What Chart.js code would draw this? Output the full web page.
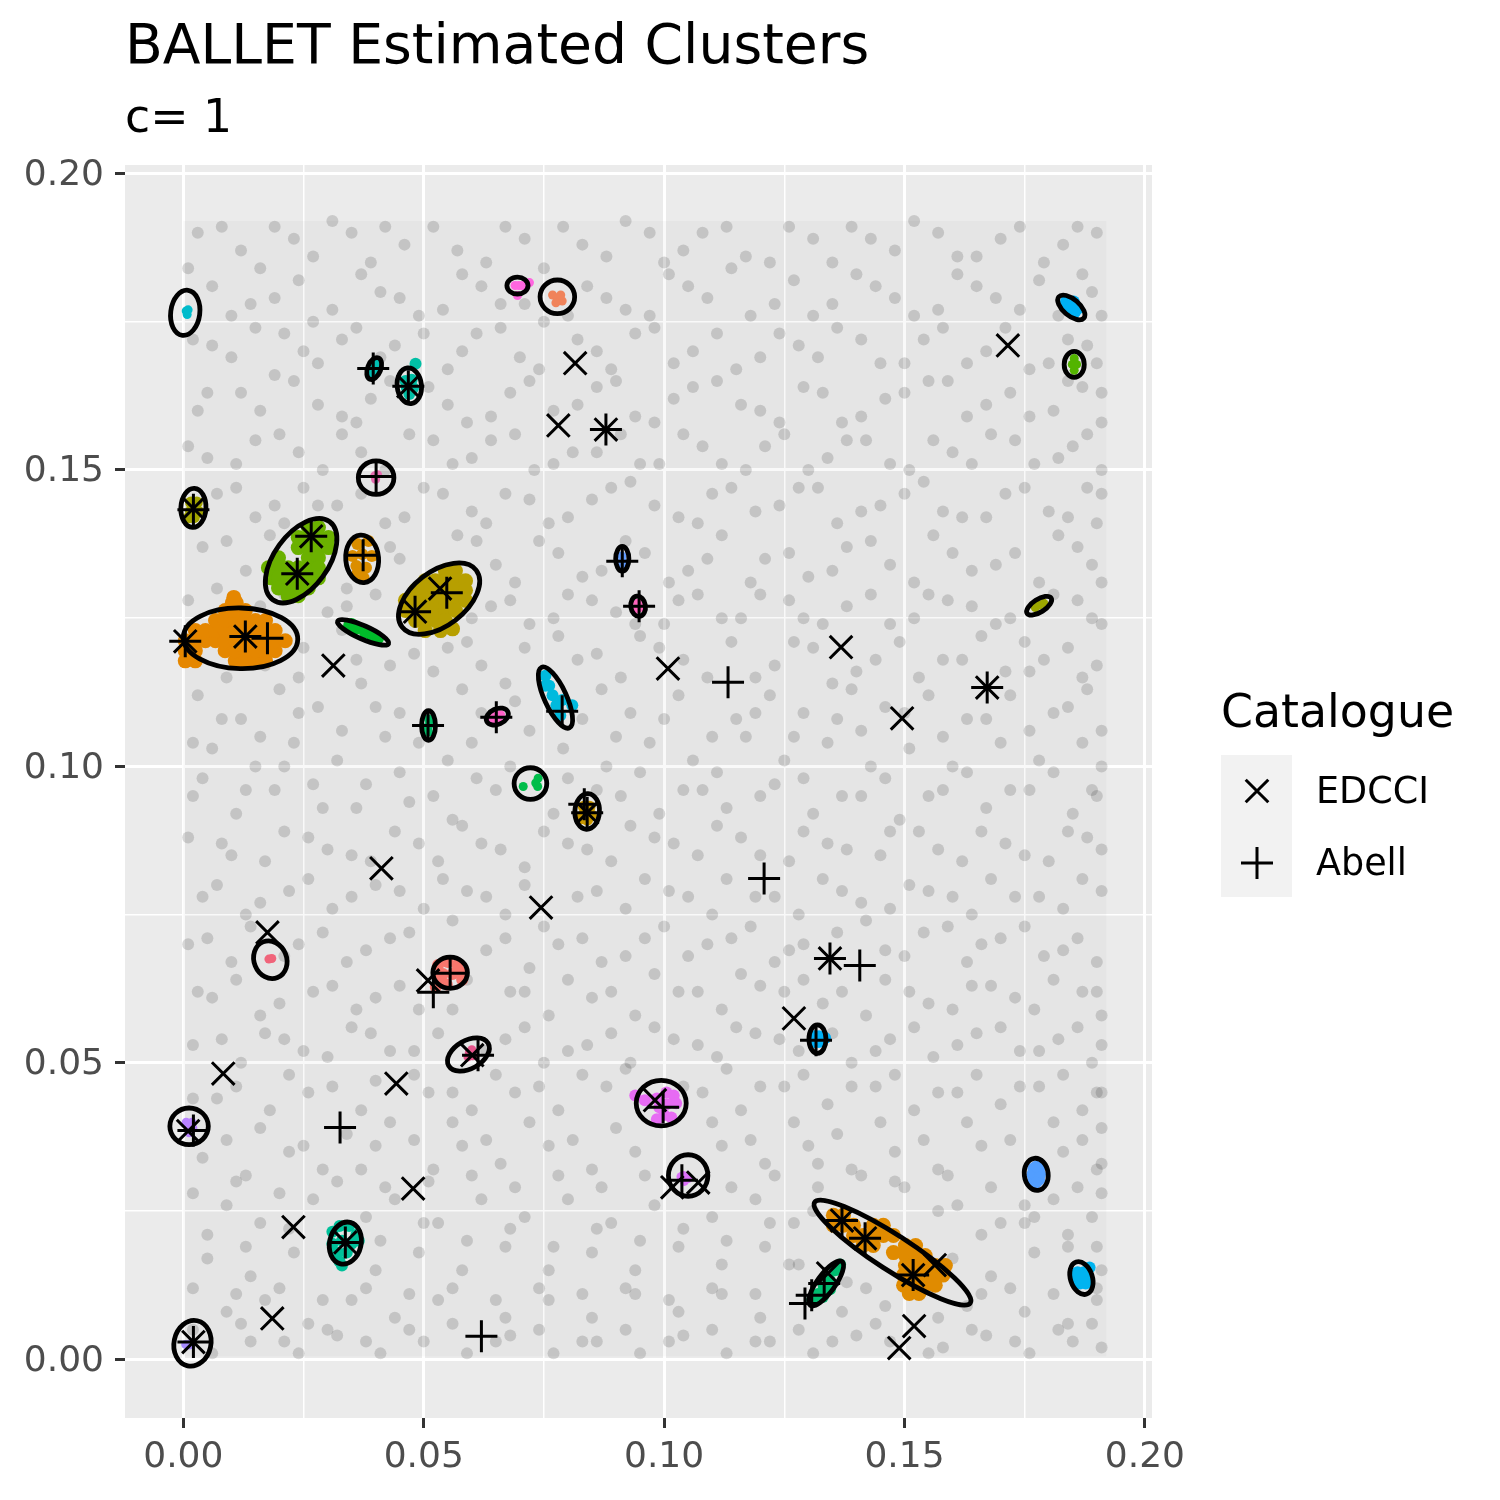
<!DOCTYPE html>
<html>
<head>
<meta charset="utf-8">
<title>BALLET Estimated Clusters</title>
<script src="https://cdn.jsdelivr.net/npm/chart.js@4/dist/chart.umd.min.js"></script>
<style>
html, body { margin: 0; padding: 0; background: #fff; }
canvas { display: block; }
</style>
</head>
<body>
<canvas id="clusters-chart" width="1500" height="1500"></canvas>
<script>
var chartTitle = "BALLET Estimated Clusters";
var chartSubtitle = "c= 1";
var legendTitle = "Catalogue";
var catalogueNames = ["EDCCI", "Abell"];

var majorTicks = [0, 0.05, 0.10, 0.15, 0.20];
var minorTicks = [0.025, 0.075, 0.125, 0.175];

var edcciX = [.1715,.0815,.0780,.0879,.0468,.0021,.0266,.0237,.0534,.0482,.0129,.0004,.0312,.1008,.1368,.1672,.1495,.0840,.0412,.0744,.0175,.1345,.0509,.1270,.0601,.0083,.0443,.0981,.0010,.1017,.1071,.0478,.0229,.1370,.1418,.1563,.1518,.1341,.0185,.0021,.1520,.1489,.0337];
var edcciY = [.1710,.1680,.1575,.1568,.1641,.1435,.1388,.1325,.1300,.1261,.1219,.1211,.1170,.1165,.1201,.1133,.1081,.0922,.0828,.0762,.0720,.0676,.0639,.0575,.0513,.0482,.0465,.0437,.0385,.0290,.0298,.0288,.0223,.0234,.0204,.0159,.0142,.0145,.0069,.0029,.0056,.0019,.0197];

var abellX = [.0395,.0468,.0879,.0401,.0021,.0266,.0237,.0374,.0548,.0482,.0129,.0175,.0004,.0913,.0948,.1672,.1133,.0788,.0651,.0509,.0834,.0840,.1208,.1345,.1407,.0555,.0520,.0613,.1316,.0326,.0998,.0021,.1037,.1370,.1418,.1518,.0337,.0021,.0620,.1293,.1333,.1307];
var abellY = [.1671,.1641,.1568,.1489,.1433,.1388,.1325,.1356,.1293,.1261,.1219,.1216,.1211,.1346,.1270,.1133,.1142,.1093,.1083,.1069,.0936,.0922,.0811,.0676,.0664,.0651,.0619,.0513,.0538,.0391,.0425,.0386,.0302,.0234,.0204,.0142,.0197,.0029,.0039,.0094,.0128,.0108];

// fitted ellipses: centre, major semi-axis as a data vector, minor/major ratio
var ellipseX = [.0004,.0778,.0695,.0397,.0470,.0401,.0021,.0245,.0372,.0532,.0119,.0374,.0913,.0946,.1780,.0774,.0653,.0510,.0722,.0840,.0181,.0555,.0593,.1319,.0994,.0012,.1050,.1774,.0337,.1475,.1337,.0019,.1868,.1847,.1853];
var ellipseY = [.1765,.1792,.1811,.1671,.1642,.1487,.1436,.1347,.1350,.1283,.1216,.1226,.1350,.1270,.1271,.1116,.1084,.1069,.0971,.0924,.0674,.0652,.0514,.0540,.0432,.0393,.0310,.0312,.0196,.0180,.0128,.0027,.0137,.1774,.1678];
var ellipseUX = [.0006,.0036,.0022,.0009,-.0004,.0037,.0002,.0059,-.0004,.0077,.0119,.0053,0,-.0003,.0025,-.0029,.0022,0,.0034,.0002,-.0015,.0036,.0041,0,.0052,.0040,0,-.0004,.0010,.0162,.0033,.0010,-.0011,.0026,0];
var ellipseUY = [.0038,0,0,.0018,.0030,0,.0033,.0066,.0040,.0048,-.0002,-.0019,.0021,.0017,.0013,.0051,.0008,.0025,0,.0030,.0030,0,.0019,.0024,0,0,.0035,.0027,.0035,-.0085,.0037,.0038,.0027,-.0018,.0022];
var ellipseRatio = [.64,.97,.8,.57,.68,.94,.64,.557,.69,.58,.53,.24,.53,.72,.45,.33,.67,.47,.97,.69,.85,.9,.62,.6,.91,.95,.95,.74,.74,.19,.33,.8,.65,.5,.77];

var clusterColours = ["#00BBCB","#F0835A","#FF66E0","#00BFB4","#00BFA5","#E76BB0","#A3A500","#6BB100","#DB8E00","#B79F00","#E58700","#00BC2A","#619CFF","#FF62BC","#9CA700","#00BADE","#FF61C9","#00BE67","#00BD4A","#C99800","#F0647A","#F8766D","#E7558C","#00B0F6","#E76BF3","#B983FF","#DC71FA","#529EFF","#00C19A","#E08B00","#00BE70","#A58AFF","#00B4F0","#00B2F5","#53B400"];

// cluster members as x,y pairs, same order as clusterColours
var clusterMembers = [
  [.0006,.1768,.0010,.1770,.0008,.1762],
  [.0768,.1795,.0778,.1790,.0788,.1785,.0775,.1782,.0785,.1795],
  [.0690,.1811,.0698,.1811,.0705,.1811,.0720,.1816,.0695,.1794],
  [.0393,.1677,.0402,.1680,.0390,.1665,.0396,.1660,.0405,.1672],
  [.0462,.1650,.0475,.1652,.0465,.1638,.0478,.1638,.0470,.1628,.0483,.1679],
  [.0398,.1490,.0404,.1492,.0400,.1484],
  [.0016,.1445,.0028,.1445,.0016,.1430,.0030,.1430,.0022,.1420,.0012,.1420],
  [.0260,.1403,.0281,.1403,.0239,.1386,.0260,.1386,.0281,.1386,.0302,.1386,.0239,.1369,.0260,.1369,.0281,.1369,.0302,.1369,.0198,.1352,.0260,.1352,.0281,.1352,.0177,.1335,.0198,.1335,.0218,.1335,.0239,.1335,.0260,.1335,.0281,.1335,.0183,.1318,.0198,.1318,.0218,.1318,.0239,.1318,.0260,.1318,.0281,.1318,.0198,.1301,.0218,.1301,.0239,.1301,.0260,.1301,.0218,.1288,.0239,.1288],
  [.0362,.1375,.0385,.1380,.0352,.1355,.0372,.1358,.0392,.1355,.0360,.1338,.0380,.1335,.0375,.1318,.0362,.1325],
  [.0545,.1330,.0566,.1330,.0503,.1313,.0524,.1313,.0545,.1313,.0566,.1313,.0587,.1313,.0483,.1297,.0503,.1297,.0524,.1297,.0545,.1297,.0566,.1297,.0587,.1297,.0462,.1280,.0483,.1280,.0503,.1280,.0524,.1280,.0545,.1280,.0566,.1280,.0587,.1280,.0462,.1263,.0483,.1263,.0503,.1263,.0524,.1263,.0545,.1263,.0566,.1263,.0483,.1246,.0503,.1246,.0524,.1246,.0545,.1246,.0503,.1229,.0535,.1229,.0560,.1232],
  [.0004,.1178,.0025,.1178,.0108,.1178,.0129,.1178,.0150,.1178,.0171,.1178,.0004,.1195,.0025,.1195,.0087,.1195,.0108,.1195,.0129,.1195,.0150,.1195,.0171,.1195,.0191,.1195,.0004,.1212,.0025,.1212,.0046,.1212,.0067,.1212,.0087,.1212,.0108,.1212,.0129,.1212,.0150,.1212,.0171,.1212,.0191,.1212,.0212,.1212,.0025,.1229,.0046,.1229,.0067,.1229,.0087,.1229,.0108,.1229,.0129,.1229,.0150,.1229,.0171,.1229,.0191,.1229,.0067,.1246,.0087,.1246,.0108,.1246,.0129,.1246,.0150,.1246,.0171,.1246,.0087,.1263,.0108,.1263,.0129,.1263,.0102,.1276,.0110,.1276,.0105,.1285],
  [.0345,.1238,.0360,.1232,.0378,.1226,.0392,.1221,.0405,.1216,.0350,.1240],
  [.0913,.1346,.0915,.1338,.0912,.1355],
  [.0945,.1275,.0950,.1268,.0942,.1265],
  [.1772,.1268,.1780,.1272,.1790,.1275],
  [.0753,.1153,.0761,.1136,.0768,.1120,.0776,.1103,.0784,.1086,.0809,.1103,.0788,.1112,.0753,.1136],
  [.0640,.1080,.0650,.1085,.0660,.1087,.0645,.1075,.0655,.1078],
  [.0510,.1080,.0510,.1068,.0510,.1058,.0505,.1065,.0512,.1075],
  [.0707,.0966,.0733,.0972,.0738,.0980,.0737,.0966],
  [.0833,.0932,.0845,.0932,.0833,.0918,.0848,.0918,.0840,.0910,.0826,.0912],
  [.0178,.0675,.0184,.0676],
  [.0530,.0665,.0550,.0670,.0570,.0665,.0580,.0652,.0540,.0650,.0560,.0650,.0580,.0640,.0530,.0640,.0548,.0632,.0525,.0628],
  [.0595,.0518,.0602,.0512,.0592,.0510,.0600,.0522],
  [.1312,.0545,.1322,.0545,.1312,.0535,.1322,.0535,.1335,.0542,.1318,.0540],
  [.0940,.0445,.0960,.0437,.0985,.0440,.1005,.0450,.1020,.0445,.1025,.0432,.1005,.0430,.1000,.0412,.1015,.0408,.0985,.0405,.0990,.0425],
  [.0006,.0400,.0012,.0392,.0018,.0400,.0012,.0382,.0020,.0390],
  [.1040,.0310,.1050,.0305,.1042,.0300,.1035,.0308],
  [.1768,.0322,.1780,.0322,.1768,.0303,.1780,.0303,.1774,.0312,.1766,.0312,.1782,.0312,.1774,.0325,.1774,.0298],
  [.0310,.0215,.0325,.0225,.0345,.0225,.0360,.0210,.0310,.0195,.0330,.0200,.0350,.0195,.0365,.0200,.0320,.0180,.0340,.0180,.0325,.0165,.0330,.0158],
  [.1352,.0243,.1373,.0243,.1352,.0226,.1373,.0226,.1394,.0226,.1435,.0226,.1456,.0226,.1394,.0209,.1414,.0209,.1435,.0209,.1456,.0209,.1477,.0209,.1414,.0192,.1435,.0192,.1477,.0180,.1502,.0192,.1523,.0192,.1502,.0175,.1523,.0175,.1543,.0175,.1502,.0158,.1523,.0158,.1543,.0158,.1564,.0158,.1585,.0158,.1498,.0142,.1523,.0142,.1543,.0142,.1564,.0142,.1580,.0142,.1498,.0125,.1523,.0125,.1543,.0125,.1564,.0125,.1510,.0111,.1530,.0111],
  [.1308,.0100,.1320,.0110,.1332,.0122,.1344,.0134,.1356,.0150,.1366,.0160,.1330,.0105,.1345,.0118],
  [.0005,.0025,.0012,.0024,.0018,.0028],
  [.1860,.0147,.1873,.0147,.1865,.0128,.1877,.0128,.1860,.0135,.1885,.0155,.1868,.0138,.1878,.0137,.1858,.0142],
  [.1836,.1784,.1846,.1778,.1856,.1768,.1846,.1768,.1852,.1784,.1860,.1772,.1838,.1776,.1852,.1764],
  [.1853,.1688,.1853,.1668,.1849,.1678,.1858,.1678,.1853,.1678]
];

// survey extent, the field tone under the speckle
var fieldX = [0, .192];
var fieldY = [.0005, .192];

// background galaxies: hand estimate of the speckle, far fewer than the real field, x,y pairs
var fieldPoints = [
.003,.190,.012,.187,.019,.191,.027,.186,.035,.190,.046,.188,.052,.191,.063,.185,.071,.189,.079,.191,.088,.186,.097,.190,.104,.187,.113,.191,.122,.185,.131,.189,.139,.191,.148,.187,.157,.190,.165,.186,.174,.191,.183,.188,.190,.190,
.006,.181,.014,.178,.024,.182,.031,.177,.041,.180,.049,.176,.058,.183,.066,.178,.075,.175,.084,.181,.092,.177,.101,.183,.109,.179,.118,.176,.127,.182,.135,.178,.144,.181,.152,.176,.161,.183,.169,.179,.178,.182,.187,.183,.191,.176,
.002,.172,.010,.169,.021,.173,.028,.168,.036,.174,.044,.171,.055,.167,.061,.173,.070,.169,.082,.172,.089,.167,.098,.174,.106,.170,.115,.167,.124,.173,.132,.169,.141,.172,.150,.168,.158,.174,.167,.170,.176,.167,.184,.172,.190,.168,
.005,.163,.016,.160,.023,.165,.033,.159,.039,.162,.051,.164,.059,.158,.068,.163,.077,.160,.086,.164,.094,.159,.102,.162,.111,.165,.120,.160,.129,.164,.137,.158,.146,.162,.155,.165,.163,.159,.172,.163,.181,.160,.187,.164,.191,.158,
.001,.154,.011,.151,.020,.156,.029,.150,.037,.153,.047,.156,.056,.151,.064,.155,.073,.150,.081,.153,.091,.156,.099,.151,.108,.154,.117,.150,.125,.156,.134,.152,.142,.155,.151,.150,.160,.153,.168,.156,.177,.151,.185,.154,.191,.150,
.007,.146,.015,.142,.025,.147,.032,.144,.042,.141,.050,.147,.060,.143,.067,.146,.076,.141,.085,.145,.093,.148,.103,.142,.110,.146,.119,.143,.128,.147,.136,.141,.145,.144,.154,.148,.162,.142,.171,.146,.180,.143,.188,.147,.190,.141,
.004,.137,.013,.133,.018,.139,.034,.130,.043,.137,.057,.139,.065,.134,.074,.138,.083,.132,.096,.136,.105,.133,.112,.139,.121,.135,.130,.132,.138,.137,.147,.134,.156,.139,.164,.133,.173,.136,.182,.139,.189,.134,
.001,.128,.010,.125,.021,.129,.030,.126,.040,.129,.048,.119,.064,.127,.072,.124,.080,.129,.090,.126,.100,.124,.107,.129,.116,.125,.126,.128,.133,.124,.143,.129,.152,.125,.159,.128,.169,.124,.175,.121,.186,.128,.191,.124,
.025,.120,.033,.123,.043,.117,.055,.120,.062,.117,.071,.120,.086,.119,.095,.122,.104,.118,.114,.121,.123,.117,.131,.120,.140,.116,.149,.121,.158,.118,.166,.122,.176,.116,.184,.120,.190,.117,
.003,.112,.012,.108,.020,.113,.028,.110,.037,.114,.045,.109,.058,.113,.069,.111,.087,.113,.093,.109,.103,.112,.115,.108,.122,.112,.129,.109,.139,.113,.146,.110,.155,.112,.163,.108,.172,.112,.181,.109,.188,.113,
.006,.103,.015,.100,.023,.104,.032,.101,.042,.105,.055,.101,.060,.104,.068,.100,.079,.103,.088,.100,.097,.104,.106,.101,.117,.105,.125,.101,.134,.104,.143,.100,.151,.103,.160,.100,.170,.104,.178,.101,.187,.104,.191,.100,
.002,.095,.011,.092,.019,.096,.029,.093,.038,.097,.047,.094,.056,.091,.065,.096,.077,.092,.091,.095,.099,.092,.108,.096,.113,.093,.123,.097,.131,.092,.141,.095,.149,.091,.158,.096,.167,.093,.176,.096,.185,.092,.190,.095,
.008,.087,.017,.084,.026,.088,.035,.085,.044,.089,.053,.084,.062,.087,.071,.083,.080,.087,.089,.084,.098,.088,.107,.085,.116,.088,.126,.084,.134,.087,.145,.085,.153,.089,.162,.084,.171,.087,.180,.084,.188,.088,
.004,.078,.013,.075,.022,.079,.031,.076,.040,.080,.050,.076,.059,.079,.067,.075,.082,.078,.092,.076,.101,.079,.110,.075,.119,.078,.128,.075,.137,.079,.147,.076,.155,.079,.164,.075,.173,.078,.183,.076,.191,.079,
.001,.070,.010,.067,.024,.070,.034,.067,.043,.071,.063,.069,.072,.066,.078,.070,.087,.067,.096,.071,.105,.068,.114,.071,.123,.067,.129,.070,.146,.069,.154,.072,.163,.067,.170,.071,.179,.068,.186,.071,.190,.067,
.006,.061,.016,.058,.027,.062,.036,.059,.045,.063,.056,.059,.068,.062,.076,.058,.085,.061,.094,.058,.103,.062,.112,.059,.120,.063,.133,.060,.142,.058,.151,.062,.160,.059,.168,.063,.177,.059,.187,.062,.191,.058,
.002,.053,.012,.050,.021,.054,.030,.051,.039,.055,.048,.052,.067,.054,.075,.050,.084,.053,.093,.050,.102,.054,.111,.051,.119,.055,.128,.052,.139,.050,.147,.054,.156,.051,.165,.055,.174,.052,.182,.054,.189,.050,
.007,.044,.018,.042,.026,.045,.037,.042,.051,.045,.060,.042,.069,.045,.078,.042,.088,.046,.108,.045,.116,.042,.125,.046,.134,.043,.144,.046,.152,.042,.161,.045,.170,.043,.178,.046,.187,.042,.191,.045,
.004,.034,.013,.031,.022,.035,.029,.032,.040,.036,.052,.032,.058,.036,.066,.033,.076,.036,.085,.032,.094,.035,.112,.036,.121,.033,.130,.036,.139,.032,.148,.035,.157,.032,.166,.036,.175,.026,.183,.035,.190,.032,
.009,.026,.016,.023,.027,.027,.038,.024,.044,.027,.053,.023,.062,.027,.071,.024,.080,.027,.089,.023,.098,.026,.110,.024,.119,.027,.127,.023,.132,.029,.161,.026,.170,.023,.181,.027,.189,.024,.191,.028,
.005,.017,.014,.014,.023,.018,.040,.015,.049,.018,.058,.015,.067,.019,.076,.015,.085,.018,.094,.015,.103,.019,.112,.016,.121,.019,.126,.016,.142,.012,.160,.017,.168,.014,.177,.018,.184,.019,.191,.015,
.009,.008,.017,.010,.026,.006,.035,.010,.044,.007,.053,.010,.067,.007,.076,.010,.085,.007,.094,.011,.103,.008,.112,.011,.120,.007,.137,.008,.146,.009,.157,.007,.166,.011,.175,.008,.184,.006,.190,.010,
.006,.001,.014,.003,.024,.001,.032,.004,.041,.001,.050,.003,.059,.001,.068,.004,.077,.001,.086,.003,.095,.001,.104,.004,.113,.001,.122,.003,.131,.001,.140,.004,.158,.002,.167,.004,.176,.001,.185,.003,.191,.002,
.008,.191,.016,.184,.023,.189,.031,.192,.039,.185,.042,.191,.057,.187,.067,.191,.075,.184,.083,.188,.092,.192,.100,.185,.108,.190,.117,.186,.126,.191,.135,.185,.143,.189,.152,.192,.161,.186,.170,.189,.179,.185,.186,.191,
.001,.184,.010,.176,.019,.179,.027,.175,.037,.183,.045,.179,.054,.177,.062,.181,.071,.178,.080,.176,.088,.179,.097,.176,.105,.181,.114,.184,.123,.178,.131,.176,.140,.183,.148,.179,.157,.177,.165,.181,.174,.177,.182,.176,.189,.180,
.006,.171,.015,.174,.025,.170,.033,.172,.041,.169,.050,.173,.058,.170,.066,.174,.074,.167,.086,.170,.094,.173,.102,.168,.111,.173,.120,.169,.128,.171,.136,.174,.145,.168,.154,.172,.163,.168,.171,.174,.180,.168,.188,.171,
.003,.160,.012,.163,.019,.166,.028,.161,.036,.158,.043,.165,.055,.161,.064,.159,.072,.165,.082,.161,.090,.165,.098,.158,.106,.164,.116,.161,.124,.158,.133,.163,.141,.159,.150,.163,.159,.165,.167,.161,.176,.159,.184,.165,.191,.163,
.005,.152,.015,.155,.024,.153,.033,.156,.042,.150,.052,.155,.060,.152,.069,.156,.077,.151,.086,.153,.095,.151,.104,.156,.112,.151,.121,.154,.130,.150,.138,.155,.147,.151,.156,.155,.164,.151,.173,.155,.182,.152,.188,.156,
.002,.142,.011,.147,.019,.144,.028,.141,.037,.146,.046,.142,.054,.146,.063,.141,.072,.145,.080,.142,.089,.147,.098,.144,.107,.141,.114,.147,.124,.144,.132,.147,.141,.143,.150,.146,.158,.143,.167,.142,.175,.147,.184,.142,.191,.146,
.009,.138,.021,.141,.028,.144,.045,.135,.061,.138,.069,.131,.078,.136,.087,.133,.092,.138,.101,.131,.109,.135,.118,.131,.126,.136,.135,.133,.143,.138,.152,.131,.160,.136,.169,.134,.178,.131,.186,.137,.191,.131,
.007,.130,.016,.127,.034,.127,.060,.125,.068,.128,.077,.125,.085,.128,.094,.124,.103,.128,.112,.125,.120,.129,.129,.125,.138,.127,.147,.124,.155,.129,.164,.127,.172,.125,.181,.129,.189,.125,
.002,.104,.009,.115,.017,.117,.024,.115,.036,.118,.052,.116,.059,.121,.067,.114,.078,.122,.082,.118,.091,.115,.099,.120,.109,.115,.119,.115,.127,.121,.135,.114,.144,.118,.153,.115,.162,.118,.171,.116,.179,.118,.187,.115,
.008,.108,.016,.105,.024,.109,.033,.106,.040,.110,.049,.104,.062,.109,.072,.106,.083,.108,.090,.105,.100,.108,.110,.105,.119,.109,.127,.105,.136,.108,.141,.106,.150,.109,.158,.105,.167,.108,.176,.106,.184,.110,.191,.106,
.004,.098,.013,.096,.021,.100,.027,.097,.036,.093,.045,.099,.052,.095,.061,.098,.080,.098,.086,.096,.095,.099,.104,.096,.111,.099,.120,.095,.129,.098,.137,.095,.146,.098,.155,.095,.163,.099,.172,.096,.181,.099,.189,.096,
.001,.088,.010,.085,.021,.089,.030,.086,.039,.084,.049,.087,.058,.090,.066,.086,.075,.089,.084,.086,.093,.090,.102,.087,.111,.090,.120,.085,.129,.089,.138,.086,.147,.089,.157,.086,.166,.089,.175,.085,.184,.089,.191,.086,
.007,.080,.016,.077,.026,.081,.035,.078,.045,.079,.054,.081,.063,.078,.071,.080,.086,.079,.096,.081,.105,.078,.113,.081,.123,.078,.133,.081,.141,.077,.151,.080,.160,.078,.168,.081,.178,.078,.187,.081,
.005,.071,.014,.073,.021,.068,.029,.072,.038,.069,.047,.072,.056,.074,.067,.071,.075,.073,.083,.071,.092,.068,.100,.073,.109,.070,.118,.073,.126,.069,.136,.072,.142,.074,.150,.068,.159,.073,.166,.070,.175,.073,.183,.069,
.003,.062,.011,.064,.020,.060,.031,.063,.040,.061,.049,.059,.059,.064,.071,.062,.080,.064,.089,.062,.098,.065,.107,.062,.116,.065,.125,.062,.129,.064,.137,.062,.146,.064,.155,.060,.164,.063,.173,.061,.181,.064,.190,.062,
.008,.054,.017,.055,.025,.052,.035,.056,.043,.052,.053,.055,.063,.052,.071,.056,.080,.052,.089,.055,.098,.056,.107,.053,.115,.056,.124,.054,.135,.055,.144,.052,.152,.056,.161,.053,.170,.056,.178,.052,.186,.056,.191,.053,
.002,.044,.011,.046,.022,.048,.031,.046,.040,.047,.048,.048,.056,.045,.065,.048,.074,.046,.083,.048,.092,.049,.104,.046,.113,.049,.120,.046,.129,.048,.139,.046,.148,.048,.157,.045,.165,.048,.174,.046,.183,.048,.190,.045,
.009,.037,.016,.039,.025,.036,.034,.038,.043,.040,.048,.037,.056,.040,.063,.037,.072,.040,.081,.037,.090,.039,.110,.040,.118,.037,.127,.040,.136,.038,.145,.040,.154,.037,.163,.040,.172,.037,.181,.040,.187,.037,.191,.039,
.002,.028,.011,.030,.020,.028,.032,.030,.037,.032,.042,.029,.051,.030,.060,.031,.069,.029,.078,.031,.087,.029,.096,.031,.114,.029,.123,.031,.132,.033,.141,.031,.150,.029,.159,.031,.168,.029,.177,.024,.186,.029,.191,.033,
.005,.021,.013,.019,.022,.022,.041,.020,.050,.023,.059,.020,.068,.022,.077,.019,.086,.022,.095,.020,.104,.022,.113,.020,.122,.023,.131,.025,.148,.030,.157,.025,.166,.021,.175,.023,.184,.021,.190,.019,
.002,.012,.011,.011,.020,.012,.029,.010,.038,.012,.047,.011,.056,.012,.065,.010,.074,.012,.083,.011,.092,.012,.101,.010,.110,.012,.119,.011,.128,.016,.138,.013,.147,.003,.155,.012,.163,.009,.172,.012,.181,.011,.190,.012,
.002,.005,.012,.006,.021,.003,.030,.005,.038,.003,.047,.005,.056,.006,.065,.003,.074,.005,.083,.003,.092,.005,.101,.003,.110,.005,.119,.003,.128,.005,.135,.003,.144,.006,.155,.001,.164,.005,.173,.003,.182,.005,.189,.006
];

function pairsToPoints(flat) {
    var points = [];
    for (var i = 0; i + 1 < flat.length; i += 2) {
        points.push({ x: flat[i], y: flat[i + 1] });
    }
    return points;
}

function zipPoints(xs, ys) {
    return xs.map(function (x, i) { return { x: x, y: ys[i] }; });
}

function isMajor(value) {
    return majorTicks.indexOf(value) >= 0;
}

function setTicks(scale) {
    scale.ticks = majorTicks.concat(minorTicks).map(function (v) { return { value: v }; });
}

// bigger clusters were read at a coarser step, so their dots overlap more
function memberRadius(members) {
    var n = members.length / 2;
    if (n >= 20) { return 7.5; }
    if (n >= 6) { return 6; }
    return 4.5;
}

var fontName = "'DejaVu Sans', sans-serif";

function axis(tickPadding, labelOffset, extra) {
    return Object.assign({
        type: "linear",
        afterBuildTicks: setTicks,
        border: { display: false },
        grid: {
            color: "#ffffff",
            lineWidth: function (ctx) { return ctx.tick && isMajor(ctx.tick.value) ? 3 : 1.5; },
            tickColor: function (ctx) { return ctx.tick && isMajor(ctx.tick.value) ? "#333333" : "rgba(0,0,0,0)"; },
            tickWidth: 3,
            tickLength: 10
        },
        ticks: {
            autoSkip: false,
            maxRotation: 0,
            padding: tickPadding,
            labelOffset: labelOffset,
            color: "#4D4D4D",
            font: { family: fontName, size: 36 },
            callback: function (value) { return isMajor(value) ? value.toFixed(2) : ""; }
        }
    }, extra);
}

var panelPlugin = {
    id: "panel",
    beforeDraw: function (chart) {
        var a = chart.chartArea, ctx = chart.ctx;
        ctx.save();
        ctx.fillStyle = "#EBEBEB";
        ctx.fillRect(a.left, a.top, a.right - a.left, a.bottom - a.top);
        ctx.restore();
    },
    beforeDatasetsDraw: function (chart) {
        var sx = chart.scales.x, sy = chart.scales.y, ctx = chart.ctx;
        var left = sx.getPixelForValue(fieldX[0]), right = sx.getPixelForValue(fieldX[1]);
        var top = sy.getPixelForValue(fieldY[1]), bottom = sy.getPixelForValue(fieldY[0]);
        ctx.save();
        ctx.fillStyle = "rgba(0,0,0,0.025)";
        ctx.fillRect(left, top, right - left, bottom - top);
        ctx.restore();
    }
};

var ellipsePlugin = {
    id: "ellipses",
    afterDatasetsDraw: function (chart) {
        var sx = chart.scales.x, sy = chart.scales.y, ctx = chart.ctx;
        ctx.save();
        ctx.strokeStyle = "#000000";
        ctx.lineWidth = 4.8;
        ellipseX.forEach(function (cx, i) {
            var px = sx.getPixelForValue(cx), py = sy.getPixelForValue(ellipseY[i]);
            var ux = sx.getPixelForValue(cx + ellipseUX[i]) - px;
            var uy = sy.getPixelForValue(ellipseY[i] + ellipseUY[i]) - py;
            var major = Math.sqrt(ux * ux + uy * uy);
            ctx.beginPath();
            ctx.ellipse(px, py, major, major * ellipseRatio[i], Math.atan2(uy, ux), 0, Math.PI * 2);
            ctx.stroke();
        });
        ctx.restore();
    }
};

var legendPlugin = {
    id: "catalogueLegend",
    afterDraw: function (chart) {
        var ctx = chart.ctx;
        ctx.save();
        ctx.fillStyle = "#F2F2F2";
        ctx.fillRect(1221, 755, 71, 142);
        ctx.fillStyle = "#000000";
        ctx.textBaseline = "middle";
        ctx.textAlign = "left";
        ctx.font = "45.8px " + fontName;
        ctx.fillText(legendTitle, 1221, 715);
        ctx.font = "36.5px " + fontName;
        ctx.fillText(catalogueNames[0], 1316, 794);
        ctx.fillText(catalogueNames[1], 1316, 866);
        ctx.strokeStyle = "#000000";
        ctx.lineWidth = 3;
        Chart.helpers.drawPoint(ctx, { pointStyle: "crossRot", radius: 16, borderWidth: 3, rotation: 0 }, 1257, 791);
        Chart.helpers.drawPoint(ctx, { pointStyle: "cross", radius: 16, borderWidth: 3, rotation: 0 }, 1257, 863);
        ctx.restore();
    }
};

var datasets = [
    { label: catalogueNames[0], data: zipPoints(edcciX, edcciY), pointStyle: "crossRot", pointRadius: 16, pointBorderColor: "#000000", pointBorderWidth: 3, order: 0 },
    { label: catalogueNames[1], data: zipPoints(abellX, abellY), pointStyle: "cross", pointRadius: 16, pointBorderColor: "#000000", pointBorderWidth: 3, order: 0 }
];

clusterMembers.forEach(function (members, i) {
    datasets.push({
        label: "cluster " + (i + 1),
        data: pairsToPoints(members),
        pointRadius: memberRadius(members),
        pointBorderWidth: 0,
        pointBackgroundColor: clusterColours[i],
        order: 1
    });
});

datasets.push({
    label: "field",
    data: pairsToPoints(fieldPoints),
    pointRadius: 6,
    pointBorderWidth: 0,
    pointBackgroundColor: "rgba(0,0,0,0.14)",
    order: 2
});

new Chart(document.getElementById("clusters-chart").getContext("2d"), {
    type: "scatter",
    data: { datasets: datasets },
    plugins: [panelPlugin, ellipsePlugin, legendPlugin],
    options: {
        responsive: false,
        animation: false,
        events: [],
        layout: { padding: { left: 0, top: 0, right: 348, bottom: 0 } },
        plugins: {
            legend: { display: false },
            tooltip: { enabled: false },
            title: {
                display: true,
                text: chartTitle,
                align: "start",
                fullSize: false,
                color: "#000000",
                font: { family: fontName, size: 55.2, weight: "normal", lineHeight: 1.2 },
                padding: { top: 15.5, bottom: 0 }
            },
            subtitle: {
                display: true,
                text: chartSubtitle,
                align: "start",
                fullSize: false,
                color: "#000000",
                font: { family: fontName, size: 45.8, weight: "normal", lineHeight: 1.2 },
                padding: { top: 11, bottom: 17.3 }
            }
        },
        scales: {
            x: axis(8, 0, {
                min: -0.01213,
                max: 0.20148,
                afterFit: function (scale) { scale.height = 82; }
            }),
            y: axis(11, 2, {
                min: -0.0099,
                max: 0.20143,
                afterFit: function (scale) { scale.width = 125; }
            })
        }
    }
});
</script>
</body>
</html>
